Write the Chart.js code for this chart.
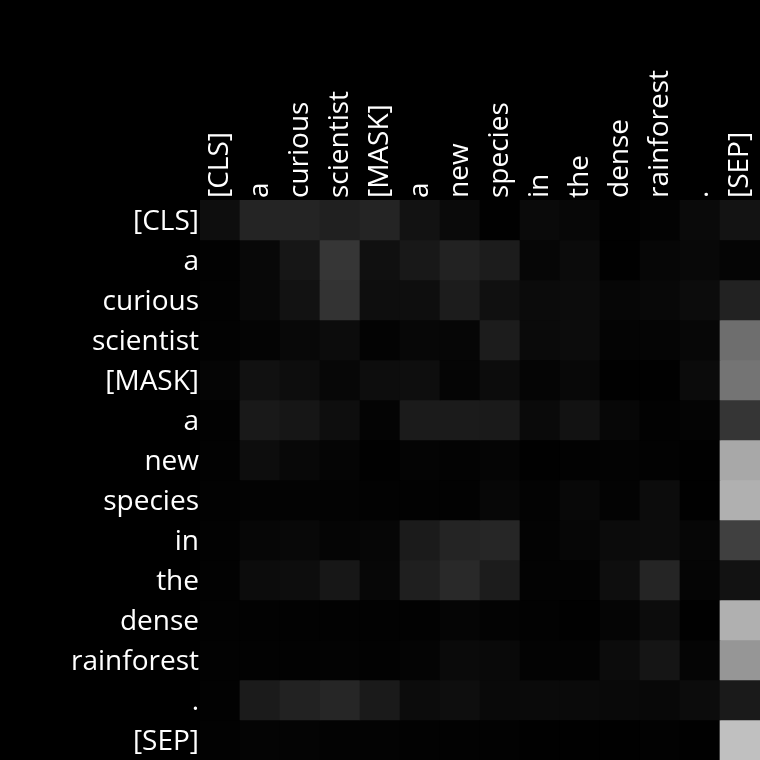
<!DOCTYPE html>
<html>
<head>
<meta charset="utf-8">
<script src="https://cdn.jsdelivr.net/npm/chart.js@4/dist/chart.umd.min.js"></script>
<style>
html,body{margin:0;padding:0;background:#000;}
#wrap{width:760px;height:760px;position:relative;}
</style>
</head>
<body>
<div id="wrap"><canvas id="c" width="760" height="760"></canvas></div>
<script>
// Tokens (columns = keys, rows = queries)
const tokens = ["[CLS]","a","curious","scientist","[MASK]","a","new","species","in","the","dense","rainforest",".","[SEP]"];

// Attention weights, as grey levels 0-255 (row by row)
const row0  = [14,36,36,32,36,18,10, 1,10, 7, 1, 3,10, 19];
const row1  = [ 2, 8,22,54,16,24,34,28, 6,11, 1, 6, 8,  5];
const row2  = [ 2, 8,18,51,14,14,28,16,11,12, 6, 8,12, 34];
const row3  = [ 2, 4, 8,12, 3, 7, 6,28,10,12, 4, 5, 7,110];
const row4  = [ 5,17,13, 7,13,14, 5,12, 5, 8, 1, 1,11,116];
const row5  = [ 2,25,22,14, 4,27,27,26,10,18, 7, 2, 4, 53];
const row6  = [ 2,13, 8, 5, 1, 4, 3, 5, 1, 2, 3, 2, 1,168];
const row7  = [ 2, 3, 3, 3, 2, 2, 2, 7, 3, 8, 3,12, 1,176];
const row8  = [ 2, 6, 8, 5, 6,27,36,38, 3, 6,11,12, 6, 64];
const row9  = [ 2,12,13,23, 7,31,41,28, 3, 3,14,37, 5, 18];
const row10 = [ 2, 2, 2, 2, 2, 2, 5, 3, 2, 1, 5,12, 1,176];
const row11 = [ 2, 2, 2, 3, 2, 4,10, 9, 3, 3,12,21, 5,150];
const row12 = [ 2,27,34,38,26,12,14, 9,10,10, 9, 8,12, 26];
const row13 = [ 2, 4, 4, 3, 3, 2, 2, 2, 1, 1, 1, 2, 1,192];
const weights = [row0,row1,row2,row3,row4,row5,row6,row7,row8,row9,row10,row11,row12,row13];

const grey = v => `rgb(${v},${v},${v})`;

const datasets = weights.map((row, r) => ({
  label: tokens[r],
  data: row.map(() => [r, r + 1]),
  backgroundColor: row.map(grey),
  borderWidth: 0,
  barPercentage: 1,
  categoryPercentage: 1,
  grouped: false
}));

const FAMILY = "'Open Sans', 'Noto Sans', sans-serif";

new Chart(document.getElementById('c'), {
  type: 'bar',
  data: {labels: tokens, datasets},
  options: {
    responsive: false,
    animation: false,
    layout: {padding: 0},
    plugins: {legend: {display: false}, tooltip: {enabled: false}},
    scales: {
      x: {
        position: 'top',
        offset: true,
        grid: {display: false, drawTicks: false},
        border: {display: false},
        ticks: {color: '#fff', font: {family: FAMILY, size: 28, lineHeight: 0.001}, minRotation: 90, maxRotation: 90, padding: 2, autoSkip: false},
        afterFit: s => { s.height = 200; s.paddingLeft = 0; s.paddingRight = 0; }
      },
      y: {
        type: 'linear',
        min: 0, max: 14,
        reverse: true,
        grid: {display: false, drawTicks: false},
        border: {display: false},
        afterBuildTicks: s => { s.ticks = tokens.map((t, i) => ({value: i + 0.56})); },
        ticks: {
          color: '#fff', font: {family: FAMILY, size: 28}, padding: 1, autoSkip: false,
          callback: (v) => tokens[Math.floor(v)]
        },
        afterFit: s => { s.width = 200; s.paddingTop = 0; s.paddingBottom = 0; }
      }
    }
  }
});
</script>
</body>
</html>
